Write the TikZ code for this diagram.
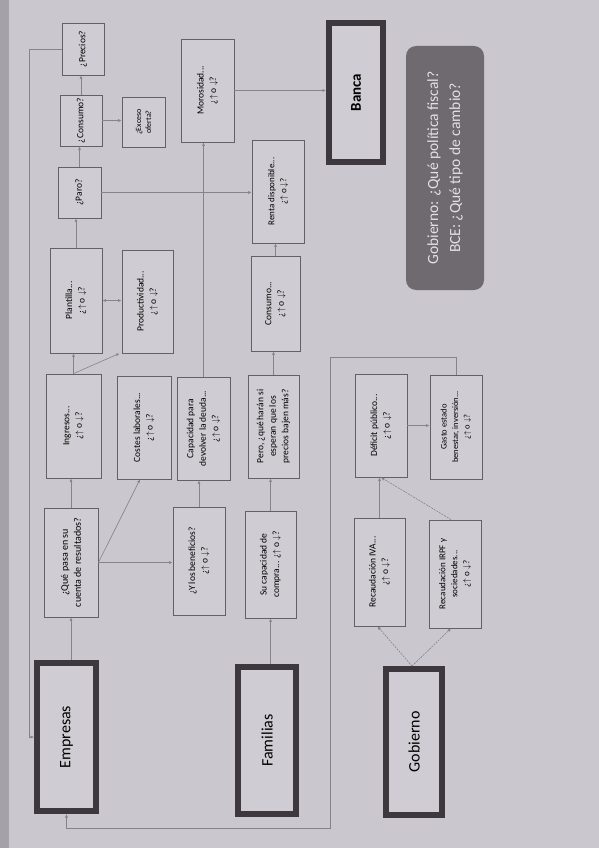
\documentclass[tikz,border=0pt]{standalone}
\usepackage{fontspec}
\setmainfont{Carlito}
\usetikzlibrary{arrows.meta,calc}
\definecolor{page}{RGB}{203,199,207}
\definecolor{strip}{RGB}{165,161,168}
\definecolor{boxfill}{RGB}{208,204,211}
\definecolor{boxline}{RGB}{100,96,103}
\definecolor{thickline}{RGB}{60,56,62}
\definecolor{connc}{RGB}{135,131,138}
\definecolor{govfill}{RGB}{110,106,112}
\definecolor{govtext}{RGB}{226,223,229}
\newcommand\ud{¿$\uparrow$ o $\downarrow$?}
\begin{document}
\begin{tikzpicture}[x=1pt,y=-1pt,
  sbox/.style={draw=boxline, fill=boxfill, line width=0.8pt, rotate=90, align=center,
    font=\fontsize{9.5}{12.5}\selectfont, inner sep=2pt},
  bigbox/.style={draw=thickline, fill=boxfill, line width=6pt, rotate=90,
    font=\fontsize{16}{19}\selectfont},
  conn/.style={draw=connc, line width=0.6pt, -{Latex[length=3.5pt,width=3pt]}},
  dconn/.style={conn, dash pattern=on 2pt off 1pt},
  loopline/.style={draw=connc, line width=0.5pt, -{Latex[length=3.5pt,width=3pt]}}]
\useasboundingbox (0,0) rectangle (599,848);
\fill[page] (0,0) rectangle (599,848);
\fill[strip] (0,0) rectangle (9,848);

% main actors
\node[bigbox, minimum width=148, minimum height=59] (emp) at (66.5,737) {Empresas};
\node[bigbox, minimum width=147, minimum height=58] (fam) at (267,740.5) {Familias};
\node[bigbox, minimum width=146, minimum height=56] (gob) at (414,742) {Gobierno};
\node[bigbox, minimum width=139, minimum height=54, font=\fontsize{15}{18}\selectfont\bfseries] (banca) at (356,92.5) {Banca};
\node[fill=govfill, rounded corners=10pt, rotate=90, minimum width=244, minimum height=78,
  align=center, text=govtext, font=\fontsize{15.5}{22}\selectfont] (gov) at (445,168)
  {Gobierno: ¿Qué política fiscal?\\BCE: ¿Qué tipo de cambio?};

% Empresas column
\node[sbox, minimum width=109, minimum height=54, font=\fontsize{10}{13}\selectfont] (qpasa) at (71,562.5) {¿Qué pasa en su\\cuenta de resultados?};
\node[sbox, minimum width=104, minimum height=55] (ingr) at (73.5,426) {Ingresos...\\\ud};
\node[sbox, minimum width=105, minimum height=52] (plant) at (76,300.5) {Plantilla...\\\ud};
\node[sbox, minimum width=51, minimum height=43] (paro) at (79.5,192.5) {¿Paro?};
\node[sbox, minimum width=51, minimum height=42] (consq) at (81,120.5) {¿Consumo?};
\node[sbox, minimum width=52, minimum height=42] (prec) at (83,49) {¿Precios?};
\node[sbox, minimum width=50, minimum height=43, font=\fontsize{8}{10}\selectfont] (exce) at (143.5,122) {¿Exceso\\oferta?};
\node[sbox, minimum width=103, minimum height=51] (prod) at (147.5,301.5) {Productividad...\\\ud};
\node[sbox, minimum width=103, minimum height=54] (cost) at (144,427.5) {Costes laborales...\\\ud};
\node[sbox, minimum width=108, minimum height=52] (benef) at (199,561) {¿Y los beneficios?\\\ud};
\node[sbox, minimum width=103, minimum height=53] (capd) at (203.5,428.5) {Capacidad para\\devolver la deuda...\\\ud};
\node[sbox, minimum width=103, minimum height=53] (moro) at (207.5,90.5) {Morosidad...\\\ud};

% Familias column
\node[sbox, minimum width=107, minimum height=51] (capc) at (270.5,564.5) {Su capacidad de\\compra... \ud};
\node[sbox, minimum width=103, minimum height=51] (pero) at (273.5,426.5) {Pero, ¿qué harán si\\esperan que los\\precios bajen más?};
\node[sbox, minimum width=95, minimum height=49] (cons) at (275.5,303.5) {Consumo...\\\ud};
\node[sbox, minimum width=103, minimum height=52, font=\fontsize{9}{12}\selectfont] (renta) at (278,191.5) {Renta disponible...\\\ud};

% Gobierno column
\node[sbox, minimum width=108, minimum height=51] (riva) at (379.5,572) {Recaudación IVA...\\\ud};
\node[sbox, minimum width=108, minimum height=52, font=\fontsize{9}{12}\selectfont] (rirpf) at (455,574) {Recaudación IRPF y\\sociedades...\\\ud};
\node[sbox, minimum width=103, minimum height=52] (defi) at (381,425.5) {Déficit público...\\\ud};
\node[sbox, minimum width=104, minimum height=52, font=\fontsize{8.5}{11.5}\selectfont] (gasto) at (456,427) {Gasto estado\\benestar, inversión...\\\ud};

% helper coordinates
\coordinate (c1) at (330,357);
\coordinate (c2) at (330,828);
\coordinate (c3) at (29,0);

% connectors (rotated nodes: east = top, west = bottom, north = left, south = right)
\draw[conn] (emp.east -| qpasa.west) -- (qpasa.west);
\draw[conn] (fam.east -| capc.west) -- (capc.west);
\draw[dconn] ($(gob.east)+(-2,0)$) -- ($(riva.west)+(-2,0)$);
\draw[dconn] ($(gob.east)+(-2,0)$) -- ($(rirpf.west)+(-4,0)$);
\draw[conn] (riva.east) -- (riva.east |- defi.west);
\draw[dconn] ($(rirpf.east)+(-4,0)$) -- (defi.west);
\draw[conn] (defi.south) -- (defi.south -| gasto.north);
\draw[loopline] (gasto.east) |- (c1) -- (c2) -| (emp.west);
\draw[loopline] (prec.north) -- (prec.north -| c3) |- (emp.north);

\draw[conn] (qpasa.east) -- (qpasa.east |- ingr.west);
\draw[conn] (qpasa.south) -- (qpasa.south -| benef.north);
\draw[conn] (qpasa.south) -- ($(cost.west)+(-4,0)$);
\draw[conn] (benef.east) -- (benef.east |- capd.west);
\draw[conn] (capc.east) -- (capc.east |- pero.west);
\draw[conn] (ingr.east) -- (ingr.east |- plant.west);
\draw[conn] (ingr.east) -- ($(prod.west)+(-28,0)$);
\draw[draw=connc, line width=0.6pt, {Latex[length=3.5pt,width=3pt]}-{Latex[length=3.5pt,width=3pt]}] (plant.south) -- (plant.south -| prod.north);
\draw[conn] (plant.east) -- (plant.east |- paro.west);
\draw[conn] (paro.east) -- (paro.east |- consq.west);
\draw[conn] (consq.east) -- (consq.east |- prec.west);
\draw[conn] (consq.south) -- (consq.south -| exce.north);
\draw[conn] (paro.south) -- (paro.south -| renta.north);
\draw[conn] (cons.east) -- (cons.east |- renta.west);
\draw[conn] (pero.east) -- (pero.east |- cons.west);
\draw[conn] (capd.east) -- (capd.east |- moro.west);
\draw[conn] (moro.south) -- (moro.south -| banca.north);
\end{tikzpicture}
\end{document}
